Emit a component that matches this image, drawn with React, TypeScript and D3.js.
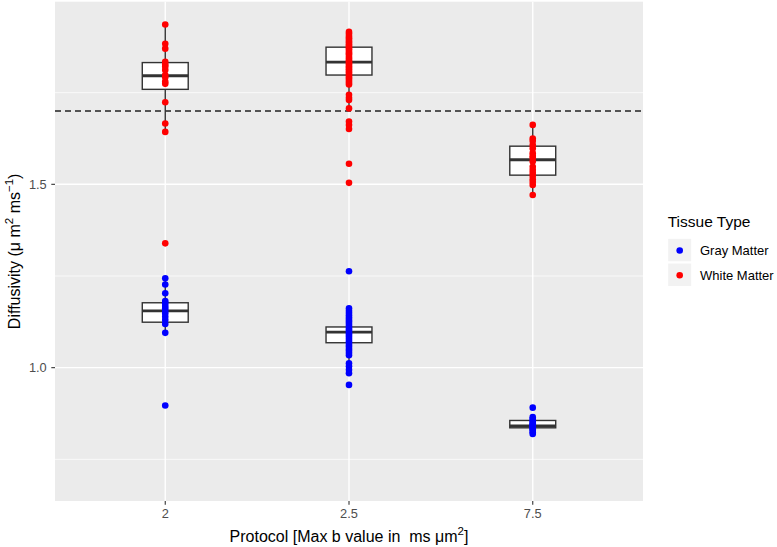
import React from "react";
import * as d3 from "d3";

const protocols = ["2", "2.5", "7.5"];

const gray2 = [1.244, 1.227, 1.203, 1.182, 1.176, 1.168, 1.162, 1.155, 1.148, 1.139, 1.130, 1.119, 1.095, 0.897];
const gray25 = [1.263, 1.162, 1.155, 1.149, 1.143, 1.137, 1.131, 1.126, 1.120, 1.114, 1.109, 1.104, 1.099, 1.094, 1.089, 1.084, 1.079, 1.073, 1.068, 1.062, 1.057, 1.051, 1.046, 1.040, 1.034, 1.012, 1.004, 0.994, 0.985, 0.953];
const gray75 = [0.891, 0.865, 0.860, 0.856, 0.852, 0.848, 0.845, 0.842, 0.840, 0.838, 0.835, 0.832, 0.828, 0.824, 0.819];

const white2 = [1.936, 1.883, 1.870, 1.834, 1.827, 1.821, 1.812, 1.798, 1.792, 1.780, 1.774, 1.724, 1.666, 1.643, 1.339];
const white25 = [1.916, 1.911, 1.905, 1.900, 1.896, 1.891, 1.887, 1.882, 1.878, 1.874, 1.870, 1.866, 1.861, 1.857, 1.853, 1.848, 1.843, 1.838, 1.834, 1.831, 1.827, 1.822, 1.818, 1.814, 1.809, 1.805, 1.800, 1.796, 1.791, 1.787, 1.782, 1.777, 1.772, 1.744, 1.736, 1.730, 1.707, 1.671, 1.662, 1.651, 1.556, 1.504];
const white75 = [1.662, 1.625, 1.618, 1.607, 1.598, 1.585, 1.577, 1.572, 1.562, 1.548, 1.539, 1.531, 1.523, 1.514, 1.506, 1.498, 1.471];

// box stats: [lowerWhisker, q1, median, q3, upperWhisker]
const grayBoxes = [
  [1.095, 1.124, 1.155, 1.177, 1.244],
  [1.004, 1.068, 1.097, 1.111, 1.162],
  [0.819, 0.836, 0.841, 0.856, 0.865],
];
const whiteBoxes = [
  [1.643, 1.759, 1.796, 1.832, 1.936],
  [1.707, 1.798, 1.833, 1.874, 1.916],
  [1.471, 1.525, 1.567, 1.604, 1.662],
];

const threshold = 1.7;
const yMajor = [1.0, 1.5];
const yMinor = [0.75, 1.25, 1.75];
const tissueTypes = ["Gray Matter", "White Matter"];
const tissueColors = ["#0000FF", "#FF0000"];

const W = 777, H = 547;
const panel = { left: 55, right: 643, top: 1.7, bottom: 501 };

export default function App() {
  const xs = d3.scalePoint().domain(protocols).range([panel.left, panel.right]).padding(0.6);
  const y = d3.scaleLinear().domain([0.6364, 1.998]).range([panel.bottom, panel.top]);
  const step = xs.step();
  const boxW = step * 0.25;

  const grayData = [gray2, gray25, gray75];
  const whiteData = [white2, white25, white75];
  const font = "'Liberation Sans', Arial, Helvetica, sans-serif";

  const renderBox = (b: number[], i: number, key: string) => {
    const cx = xs(protocols[i])!;
    const [lo, q1, med, q3, hi] = b;
    return (
      <g key={key}>
        <line x1={cx} x2={cx} y1={y(hi)} y2={y(q3)} stroke="#333333" strokeWidth={1.4} />
        <line x1={cx} x2={cx} y1={y(q1)} y2={y(lo)} stroke="#333333" strokeWidth={1.4} />
        <rect x={cx - boxW / 2} y={y(q3)} width={boxW} height={y(q1) - y(q3)} fill="#FFFFFF" stroke="#333333" strokeWidth={1.4} />
        <line x1={cx - boxW / 2} x2={cx + boxW / 2} y1={y(med)} y2={y(med)} stroke="#333333" strokeWidth={2.8} />
      </g>
    );
  };

  return (
    <svg width={W} height={H} style={{ position: "absolute", left: 0, top: 0, fontFamily: font }}>
      <rect x={0} y={0} width={W} height={H} fill="#FFFFFF" />
      <rect x={panel.left} y={panel.top} width={panel.right - panel.left} height={panel.bottom - panel.top} fill="#EBEBEB" />
      {yMinor.map((v) => (
        <line key={"mn" + v} x1={panel.left} x2={panel.right} y1={y(v)} y2={y(v)} stroke="#FFFFFF" strokeWidth={0.7} />
      ))}
      {yMajor.map((v) => (
        <line key={"mj" + v} x1={panel.left} x2={panel.right} y1={y(v)} y2={y(v)} stroke="#FFFFFF" strokeWidth={1.4} />
      ))}
      {protocols.map((p) => (
        <line key={"vx" + p} x1={xs(p)} x2={xs(p)} y1={panel.top} y2={panel.bottom} stroke="#FFFFFF" strokeWidth={1.4} />
      ))}
      <line x1={panel.left} x2={panel.right} y1={y(threshold)} y2={y(threshold)} stroke="#222222" strokeWidth={1.3} strokeDasharray="6,4" />
      {grayBoxes.map((b, i) => renderBox(b, i, "gb" + i))}
      {whiteBoxes.map((b, i) => renderBox(b, i, "wb" + i))}
      {grayData.map((arr, i) =>
        arr.map((v, j) => <circle key={"g" + i + "_" + j} cx={xs(protocols[i])} cy={y(v)} r={3.3} fill={tissueColors[0]} />)
      )}
      {whiteData.map((arr, i) =>
        arr.map((v, j) => <circle key={"w" + i + "_" + j} cx={xs(protocols[i])} cy={y(v)} r={3.3} fill={tissueColors[1]} />)
      )}
      {/* y axis */}
      {yMajor.map((v) => (
        <g key={"yt" + v}>
          <line x1={panel.left - 3.7} x2={panel.left} y1={y(v)} y2={y(v)} stroke="#333333" strokeWidth={1.1} />
          <text x={panel.left - 8.3} y={y(v) + 4.5} textAnchor="end" fontSize={12.8} fill="#4D4D4D">{d3.format(".1f")(v)}</text>
        </g>
      ))}
      {/* x axis */}
      {protocols.map((p) => (
        <g key={"xt" + p}>
          <line x1={xs(p)} x2={xs(p)} y1={panel.bottom} y2={panel.bottom + 3.7} stroke="#333333" strokeWidth={1.1} />
          <text x={xs(p)} y={517.5} textAnchor="middle" fontSize={12.8} fill="#4D4D4D">{p}</text>
        </g>
      ))}
      <text x={(panel.left + panel.right) / 2} y={541.5} textAnchor="middle" fontSize={16} fill="#000000" style={{ whiteSpace: "pre" }}>
        Protocol [Max b value in  ms μm<tspan dy={-6.5} fontSize={11.5}>2</tspan><tspan dy={6.5}>]</tspan>
      </text>
      <text transform={`translate(19.5, ${(panel.top + panel.bottom) / 2}) rotate(-90)`} textAnchor="middle" fontSize={16} fill="#000000" style={{ whiteSpace: "pre" }}>
        Diffusivity (μ m<tspan dy={-6.5} fontSize={11.5}>2</tspan><tspan dy={6.5}> ms</tspan><tspan dy={-6.5} fontSize={11.5}>−1</tspan><tspan dy={6.5}>)</tspan>
      </text>
      {/* legend */}
      <text x={667.7} y={227} fontSize={15.5} fill="#000000">Tissue Type</text>
      {tissueTypes.map((t, i) => (
        <g key={"lg" + t}>
          <rect x={667.7} y={238.3 + i * 24.7} width={24} height={23.5} fill="#F2F2F2" stroke="#FFFFFF" strokeWidth={1} />
          <circle cx={679.7} cy={250.5 + i * 24.7} r={3.3} fill={tissueColors[i]} />
          <text x={700} y={250.5 + i * 24.7 + 4.6} fontSize={13} fill="#000000">{t}</text>
        </g>
      ))}
    </svg>
  );
}
